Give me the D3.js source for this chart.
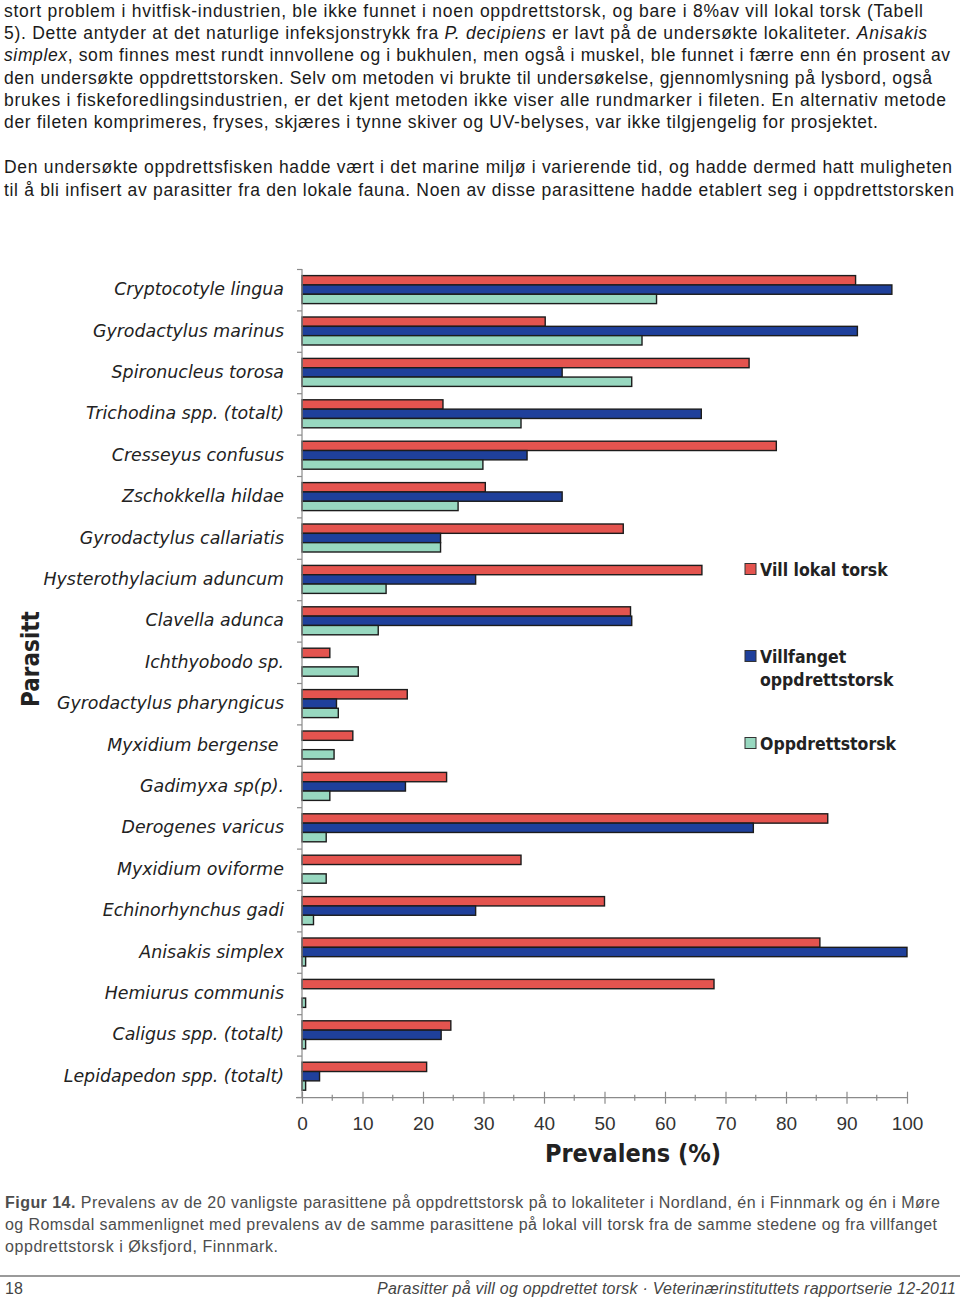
<!DOCTYPE html>
<html><head><meta charset="utf-8">
<script src="https://cdn.jsdelivr.net/npm/d3@7"></script>
<style>
html,body{margin:0;padding:0;background:#fff;}
svg{display:block;}
</style></head>
<body>
<svg id="c" width="960" height="1300"></svg>
<script>
const categories = ["Cryptocotyle lingua","Gyrodactylus marinus","Spironucleus torosa","Trichodina spp. (totalt)","Cresseyus confusus","Zschokkella hildae","Gyrodactylus callariatis","Hysterothylacium aduncum","Clavella adunca","Ichthyobodo sp.","Gyrodactylus pharyngicus","Myxidium bergense\u00a0","Gadimyxa sp(p).","Derogenes varicus","Myxidium oviforme","Echinorhynchus gadi","Anisakis simplex","Hemiurus communis","Caligus spp. (totalt)","Lepidapedon spp. (totalt)"];
const villLokal   = [91.5, 40.2, 73.9, 23.3, 78.4, 30.3, 53.1, 66.1, 54.3, 4.6, 17.4, 8.4, 23.9, 86.9, 36.2, 50.0, 85.6, 68.1, 24.6, 20.6];
const villfanget  = [97.5, 91.8, 43.0, 66.0, 37.2, 43.0, 22.9, 28.7, 54.5, 0, 5.7, 0, 17.1, 74.6, 0, 28.7, 100, 0, 23.0, 2.9];
const oppdrett    = [58.6, 56.2, 54.5, 36.2, 29.9, 25.8, 22.9, 13.9, 12.6, 9.3, 6.0, 5.3, 4.6, 4.0, 4.0, 1.9, 0.6, 0.6, 0.6, 0.6];
const seriesNames = ["Vill lokal torsk", "Villfanget oppdrettstorsk", "Oppdrettstorsk"];
const seriesColors = ["#e4544f", "#1f409b", "#98d8c0"];
const xTicks = [0,10,20,30,40,50,60,70,80,90,100];

const bodyLines = [
  [["stort problem i hvitfisk-industrien, ble ikke funnet i noen oppdrettstorsk, og bare i 8%av vill lokal torsk (Tabell",0]],
  [["5). Dette antyder at det naturlige infeksjonstrykk fra ",0],["P. decipiens",1],[" er lavt på de undersøkte lokaliteter. ",0],["Anisakis",1]],
  [["simplex",1],[", som finnes mest rundt innvollene og i bukhulen, men også i muskel, ble funnet i færre enn én prosent av",0]],
  [["den undersøkte oppdrettstorsken. Selv om metoden vi brukte til undersøkelse, gjennomlysning på lysbord, også",0]],
  [["brukes i fiskeforedlingsindustrien, er det kjent metoden ikke viser alle rundmarker i fileten. En alternativ metode",0]],
  [["der fileten komprimeres, fryses, skjæres i tynne skiver og UV-belyses, var ikke tilgjengelig for prosjektet.",0]],
  [["Den undersøkte oppdrettsfisken hadde vært i det marine miljø i varierende tid, og hadde dermed hatt muligheten",0]],
  [["til å bli infisert av parasitter fra den lokale fauna. Noen av disse parasittene hadde etablert seg i oppdrettstorsken",0]]
];
const bodyY = [17, 39, 61, 84, 106, 128, 173, 196];
const bodyW = [919, 923, 946, 928, 942, 874, 948, 950];

const captionLines = [
  [["Figur 14.",2],[" Prevalens av de 20 vanligste parasittene på oppdrettstorsk på to lokaliteter i Nordland, én i Finnmark og én i Møre",0]],
  [["og Romsdal sammenlignet med prevalens av de samme parasittene på lokal vill torsk fra de samme stedene og fra villfanget",0]],
  [["oppdrettstorsk i Øksfjord, Finnmark.",0]]
];
const captionY = [1208, 1230, 1252];
const captionW = [935, 932, 273];

const svg = d3.select("#c");

function textBlock(lines, ys, ws, x0, size, color){
  lines.forEach((segs,i)=>{
    const t = svg.append("text").attr("x",x0).attr("y",ys[i])
      .attr("font-family","'Liberation Sans Narrow', 'Liberation Sans', Arial, sans-serif").attr("font-size",size).attr("fill",color)
      .attr("textLength",ws[i]).attr("lengthAdjust","spacing").style("white-space","pre");
    segs.forEach(s=>{
      const ts = t.append("tspan").text(s[0]);
      if(s[1]===1) ts.attr("font-style","italic");
      if(s[1]===2) ts.attr("font-weight","bold");
    });
  });
}
textBlock(bodyLines, bodyY, bodyW, 4, 17.5, "#1a1a1a");
textBlock(captionLines, captionY, captionW, 5, 16, "#4d4d4d");

// chart
const x = d3.scaleLinear().domain([0,100]).range([302,907]);
const y0 = d3.scaleBand().domain(categories).range([269,1097]).paddingInner(0).paddingOuter(0);
const y1 = d3.scaleBand().domain(seriesNames).range([6.6, 34.6]);

const data = categories.map((c,i)=>({c, vals:[villLokal[i], villfanget[i], oppdrett[i]]}));

const g = svg.append("g");
const groups = g.selectAll("g.cat").data(data).join("g").attr("class","cat")
  .attr("transform", d=>`translate(0,${y0(d.c)})`);
groups.selectAll("rect").data(d=>d.vals.map((v,k)=>({v,k})).filter(e=>e.v>0)).join("rect")
  .attr("x", x(0)).attr("y", e=>y1(seriesNames[e.k]))
  .attr("width", e=>x(e.v)-x(0)).attr("height", y1.bandwidth())
  .attr("fill", e=>seriesColors[e.k]).attr("stroke","#1c1c1c").attr("stroke-width",1.4);

// y axis: boundary ticks
const yb = d3.scaleLinear().domain([0,20]).range([269,1097]);
const yAx = svg.append("g").attr("transform","translate(302,0)")
  .call(d3.axisLeft(yb).ticks(20).tickSize(5).tickFormat(""));
yAx.selectAll("path,line").attr("stroke","#8a8a8a").attr("stroke-width",1.2);
yAx.select("path").attr("d","M0,269V1097");

// y labels
const yl = svg.append("g").attr("transform","translate(302,0)")
  .call(d3.axisLeft(y0).tickSize(0).tickPadding(18));
yl.select("path").remove();
yl.selectAll("text").attr("font-family","'DejaVu Sans', Verdana, sans-serif").attr("font-style","italic")
  .attr("font-size",17.4).attr("fill","#222").style("white-space","pre");

// x axis
const xAx = svg.append("g").attr("transform","translate(0,1097.7)")
  .call(d3.axisBottom(x).tickValues(xTicks).tickSize(6).tickPadding(13));
xAx.select("path").attr("d","M296,0H907").attr("stroke","#8a8a8a").attr("stroke-width",1.2);
xAx.selectAll(".tick line").attr("y1",-6).attr("stroke","#8a8a8a").attr("stroke-width",1.2);
xAx.selectAll("text").attr("font-family","'Liberation Sans', Arial, sans-serif").attr("font-size",19).attr("fill","#333");
const minor = d3.range(5,100,10);
svg.append("g").selectAll("line").data(minor).join("line")
  .attr("x1",d=>x(d)).attr("x2",d=>x(d)).attr("y1",1094.7).attr("y2",1100.7)
  .attr("stroke","#8a8a8a").attr("stroke-width",1.2);

// axis titles
svg.append("text").attr("x",633).attr("y",1162).attr("text-anchor","middle")
  .attr("font-family","'DejaVu Sans Condensed', 'DejaVu Sans', sans-serif").attr("font-weight","bold")
  .attr("font-size",25).attr("fill","#222").text("Prevalens (%)");
svg.append("text").attr("transform","translate(39,659) rotate(-90)").attr("text-anchor","middle")
  .attr("font-family","'DejaVu Sans Condensed', 'DejaVu Sans', sans-serif").attr("font-weight","bold")
  .attr("font-size",24).attr("fill","#222").text("Parasitt");

// legend
const legendItems = [
  {k:0, lines:["Vill lokal torsk"], y:569},
  {k:1, lines:["Villfanget","oppdrettstorsk"], y:656},
  {k:2, lines:["Oppdrettstorsk"], y:743}
];
const lg = svg.append("g");
legendItems.forEach(it=>{
  lg.append("rect").attr("x",745).attr("y",it.y-5.5).attr("width",11).attr("height",11)
    .attr("fill",seriesColors[it.k]).attr("stroke","#333").attr("stroke-width",1);
  it.lines.forEach((l,j)=>{
    lg.append("text").attr("x",760).attr("y",it.y+6.5+j*23)
      .attr("font-family","'DejaVu Sans Condensed', 'DejaVu Sans', sans-serif").attr("font-weight","bold")
      .attr("font-size",17.5).attr("fill","#222").text(l);
  });
});

// footer
svg.append("line").attr("x1",0).attr("x2",960).attr("y1",1276).attr("y2",1276).attr("stroke","#9a9a9a").attr("stroke-width",2);
svg.append("text").attr("x",5).attr("y",1294).attr("font-family","'Liberation Sans Narrow', 'Liberation Sans', Arial, sans-serif")
  .attr("font-size",16).attr("fill","#444").text("18");
svg.append("text").attr("x",956).attr("y",1294).attr("text-anchor","end")
  .attr("font-family","'Liberation Sans Narrow', 'Liberation Sans', Arial, sans-serif").attr("font-style","italic")
  .attr("font-size",16).attr("fill","#444").attr("textLength",579).attr("lengthAdjust","spacing")
  .text("Parasitter på vill og oppdrettet torsk · Veterinærinstituttets rapportserie 12-2011");
</script>
</body></html>
